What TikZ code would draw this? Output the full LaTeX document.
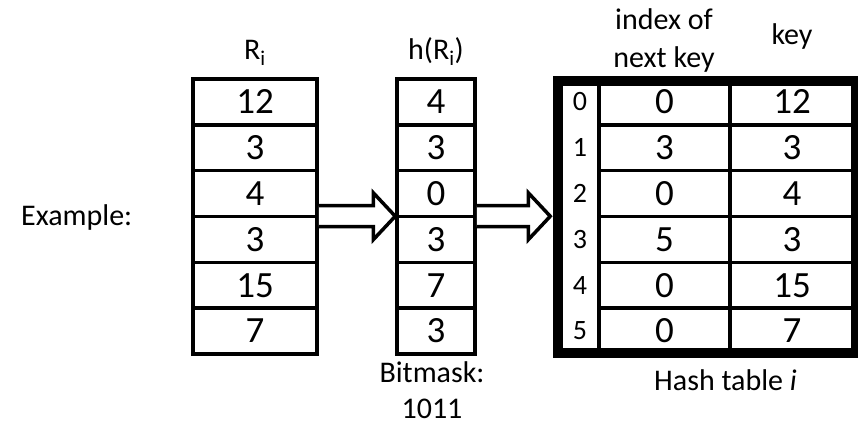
\documentclass[tikz,border=0pt]{standalone}
\usepackage{fontspec}
\setmainfont{Carlito}
\usetikzlibrary{calc}
\begin{document}
\begin{tikzpicture}[x=1pt,y=-1pt,
  cell/.style={draw, line width=3.5pt, inner sep=0pt, minimum height=45.83pt,
    font=\fontsize{37}{44}\selectfont},
  idx/.style={inner sep=0pt, font=\fontsize{28}{34}\selectfont},
  lbl/.style={inner sep=0pt, anchor=base, font=\fontsize{30}{37}\selectfont},
  frame/.style={draw, line width=9.5pt, inner sep=0pt},
  hollow/.style={draw, line width=3.5pt, line join=miter, fill=white}]
\useasboundingbox (0,0) rectangle (858,425);

% input column R_i
\foreach \v [count=\k] in {12,3,4,3,15,7}
  \node[cell, minimum width=124pt] (r\k) at (255,{79+45.83*(\k-0.5)}) {\v};

% hashed values h(R_i)
\foreach \v [count=\k] in {4,3,0,3,7,3}
  \node[cell, minimum width=78pt] (h\k) at (436,{79+45.83*(\k-0.5)}) {\v};

% hash table: next-key column and key column
\foreach \v [count=\k] in {0,3,0,5,0,0}
  \node[cell, minimum width=131pt] (n\k) at (664.5,{79+45.83*(\k-0.5)}) {\v};
\foreach \v [count=\k] in {12,3,4,3,15,7}
  \node[cell, minimum width=124pt] (k\k) at (792,{79+45.83*(\k-0.5)}) {\v};

% thick frame around the hash table
\node[frame, minimum width=298pt, minimum height=272pt] (ht) at (707,217) {};

% slot numbers
\foreach \k in {1,...,6}
  \node[idx] (i\k) at (580,{79+45.83*(\k-0.5)}) {\the\numexpr\k-1\relax};

% hollow block arrows
\draw[hollow] let \p1=(r3.south east), \p2=(h3.south west) in
  (\x1,\y1+12.5pt) -- (\x2-22pt,\y1+12.5pt) -- (\x2-22pt,\y1+25.5pt)
  -- (\x2,\y1+2pt) -- (\x2-22pt,\y1-21.5pt) -- (\x2-22pt,\y1-8.5pt)
  -- (\x1,\y1-8.5pt);
\draw[hollow] let \p1=(h3.south east), \p2=(ht.west) in
  (\x1,\y1+12.5pt) -- (\x2-25pt,\y1+12.5pt) -- (\x2-25pt,\y1+25.5pt)
  -- (\x2-3pt,\y1+2pt) -- (\x2-25pt,\y1-21.5pt) -- (\x2-25pt,\y1-8.5pt)
  -- (\x1,\y1-8.5pt);

% labels
\node[lbl] (lr) at (255,60) {R\textsubscript{i}};
\node[lbl] (lh) at (436,60) {h(R\textsubscript{i})};
\node[lbl] (lidx1) at (664,30) {index of};
\node[lbl] (lidx2) at (664,68) {next key};
\node[lbl] (lkey) at (792,45) {key};
\node[lbl, anchor=base west] (lex) at (21,225) {Example:};
\node[lbl] (lbm) at (432,382) {Bitmask:};
\node[lbl] (lbv) at (432,418) {1011};
\node[lbl, anchor=base west] (lht) at (654,390) {Hash table \textit{i}};
\end{tikzpicture}
\end{document}
